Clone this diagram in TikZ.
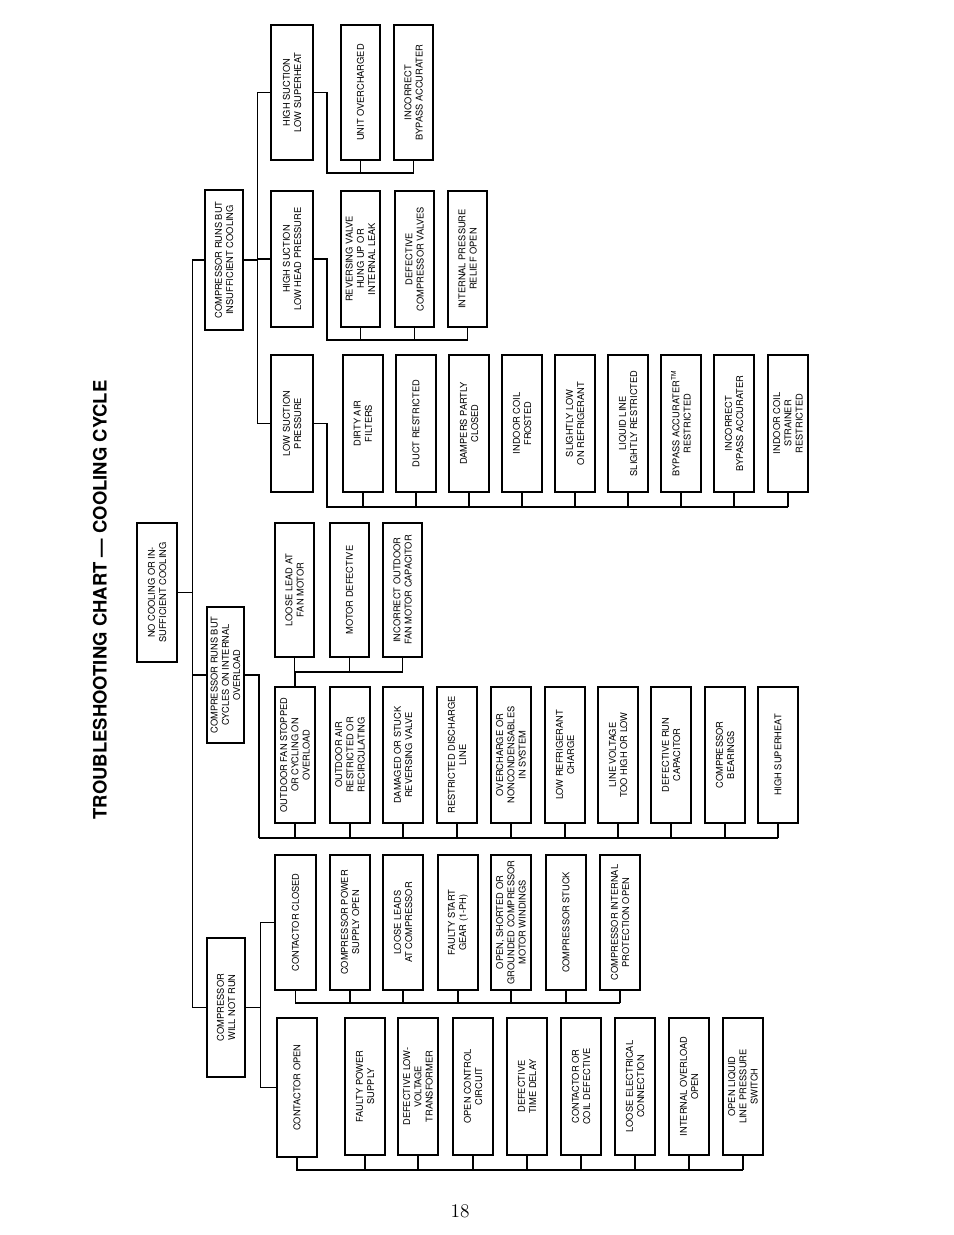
\documentclass[tikz,border=0pt]{standalone}
\usepackage{fontspec}
\setsansfont{TeX Gyre Heros}
\tikzset{chartbox/.style={draw, line width=0.9pt, rotate=90, inner sep=0pt, align=center,
    font=\sffamily\fontsize{5.3}{6.4}\selectfont},
  bus/.style={line width=0.6pt}}
\newcommand{\ChartBox}[6]{\node[chartbox, minimum width={(#5-#3)*0.02cm}, minimum height={(#4-#2)*0.02cm}] (#1) at ({(#2+#4)/2},{(#3+#5)/2}) {#6};}
\begin{document}
\begin{tikzpicture}[x=0.02cm,y=-0.02cm]
\useasboundingbox (0,0) rectangle (954,1235);
\node[rotate=90, font=\sffamily\bfseries\fontsize{10.5}{12}\selectfont] (title) at (100,600) {TROUBLESHOOTING CHART --- COOLING CYCLE};
\node[font=\fontsize{11}{13}\selectfont] (page) at (460,1211) {18};

% root and first level
\ChartBox{root}{137}{523}{177}{662}{NO COOLING OR IN-\\SUFFICIENT COOLING}
\ChartBox{wnr}{207}{938}{245}{1077}{COMPRESSOR\\WILL NOT RUN}
\ChartBox{ovl}{207}{607}{244}{743}{COMPRESSOR RUNS BUT\\CYCLES ON INTERNAL\\OVERLOAD}
\ChartBox{ins}{205}{190}{243}{330}{COMPRESSOR RUNS BUT\\INSUFFICIENT COOLING}
\draw[bus] (root.south) -- ++(15,0) coordinate (j0);
\draw[bus] (wnr.north) -| (j0);
\draw[bus] (ovl.north) -| (j0);
\draw[bus] (ins.north) -| (j0);

% compressor will not run
\ChartBox{copen}{277}{1018}{317}{1157}{CONTACTOR OPEN}
\ChartBox{cclosed}{275}{855}{316}{990}{CONTACTOR CLOSED}
\draw[bus] (wnr.south) -- ++(15,0) coordinate (j1);
\draw[bus] (copen.north) -| (j1);
\draw[bus] (cclosed.north) -| (j1);
\foreach \x/\t [count=\i] in {345/{FAULTY POWER\\SUPPLY},398/{DEFECTIVE LOW-\\VOLTAGE\\TRANSFORMER},
    453/{OPEN CONTROL\\CIRCUIT},507/{DEFECTIVE\\TIME DELAY},561/{CONTACTOR OR\\COIL DEFECTIVE},
    615/{LOOSE ELECTRICAL\\CONNECTION},669/{INTERNAL OVERLOAD\\OPEN},723/{OPEN LIQUID\\LINE PRESSURE\\SWITCH}}
  {\ChartBox{co\i}{\x}{1018}{\x+40}{1155}{\t}
   \draw[bus] (co\i.west) -- (co\i.west |- 0,1170);}
\draw[bus] (copen.west) |- (co8.west |- 0,1170);
\foreach \x/\t [count=\i] in {330/{COMPRESSOR POWER\\SUPPLY OPEN},383/{LOOSE LEADS\\AT COMPRESSOR},
    438/{FAULTY START\\GEAR (1-PH)},491/{OPEN, SHORTED OR\\GROUNDED COMPRESSOR\\MOTOR WINDINGS},
    546/{COMPRESSOR STUCK},600/{COMPRESSOR INTERNAL\\PROTECTION OPEN}}
  {\ChartBox{cc\i}{\x}{855}{\x+40}{990}{\t}
   \draw[bus] (cc\i.west) -- (cc\i.west |- 0,1003);}
\draw[bus] (cclosed.west) |- (cc6.west |- 0,1003);

% cycles on internal overload
\draw[bus] (ovl.south) -- (259,675) -- (259,838);
\foreach \x/\t [count=\i] in {275/{OUTDOOR FAN STOPPED\\OR CYCLING ON\\OVERLOAD},330/{OUTDOOR AIR\\RESTRICTED OR\\RECIRCULATING},
    383/{DAMAGED OR STUCK\\REVERSING VALVE},437/{RESTRICTED DISCHARGE\\LINE},
    491/{OVERCHARGE OR\\NONCONDENSABLES\\IN SYSTEM},545/{LOW REFRIGERANT\\CHARGE},
    598/{LINE VOLTAGE\\TOO HIGH OR LOW},651/{DEFECTIVE RUN\\CAPACITOR},705/{COMPRESSOR\\BEARINGS},758/{HIGH SUPERHEAT}}
  {\ChartBox{ov\i}{\x}{687}{\x+40}{823}{\t}
   \draw[bus] (ov\i.west) -- (ov\i.west |- 0,838);}
\draw[bus] (259,838) -- (ov10.west |- 0,838);
\foreach \x/\t [count=\i] in {275/{LOOSE LEAD AT\\FAN MOTOR},330/{MOTOR DEFECTIVE},383/{INCORRECT OUTDOOR\\FAN MOTOR CAPACITOR}}
  {\ChartBox{fm\i}{\x}{523}{\x+39}{657}{\t}
   \draw[bus] (fm\i.west) -- (fm\i.west |- 0,672);}
\draw[bus] (ov1.east) |- (fm3.west |- 0,672);

% insufficient cooling
\ChartBox{hsls}{271}{25}{313}{160}{HIGH SUCTION\\LOW SUPERHEAT}
\ChartBox{hshp}{271}{191}{313}{327}{HIGH SUCTION\\LOW HEAD PRESSURE}
\ChartBox{lsp}{271}{355}{313}{492}{LOW SUCTION\\PRESSURE}
\draw[bus] (ins.south) -- ++(14,0) coordinate (j3);
\draw[bus] (hsls.north) -| (j3);
\draw[bus] (hshp.north) -| (j3);
\draw[bus] (lsp.north) -| (j3);
\foreach \x/\t [count=\i] in {341/{UNIT OVERCHARGED},394/{INCORRECT\\BYPASS ACCURATER}}
  {\ChartBox{hl\i}{\x}{25}{\x+39}{160}{\t}
   \draw[bus] (hl\i.west) -- (hl\i.west |- 0,173);}
\draw[bus] (hsls.south) -| (327,173) -- (hl2.west |- 0,173);
\foreach \x/\t [count=\i] in {341/{REVERSING VALVE\\HUNG UP OR\\INTERNAL LEAK},395/{DEFECTIVE\\COMPRESSOR VALVES},448/{INTERNAL PRESSURE\\RELIEF OPEN}}
  {\ChartBox{hp\i}{\x}{191}{\x+39}{327}{\t}
   \draw[bus] (hp\i.west) -- (hp\i.west |- 0,340);}
\draw[bus] (hshp.south) -| (327,340) -- (hp3.west |- 0,340);
\foreach \x/\t [count=\i] in {343/{DIRTY AIR\\FILTERS},396/{DUCT RESTRICTED},449/{DAMPERS PARTLY\\CLOSED},
    502/{INDOOR COIL\\FROSTED},555/{SLIGHTLY LOW\\ON REFRIGERANT},608/{LIQUID LINE\\SLIGHTLY RESTRICTED},
    661/{BYPASS ACCURATER\textsuperscript{TM}\\RESTRICTED},714/{INCORRECT\\BYPASS ACCURATER},768/{INDOOR COIL\\STRAINER\\RESTRICTED}}
  {\ChartBox{ls\i}{\x}{355}{\x+40}{492}{\t}
   \draw[bus] (ls\i.west) -- (ls\i.west |- 0,507);}
\draw[bus] (lsp.south) -| (327,507) -- (ls9.west |- 0,507);
\end{tikzpicture}
\end{document}
